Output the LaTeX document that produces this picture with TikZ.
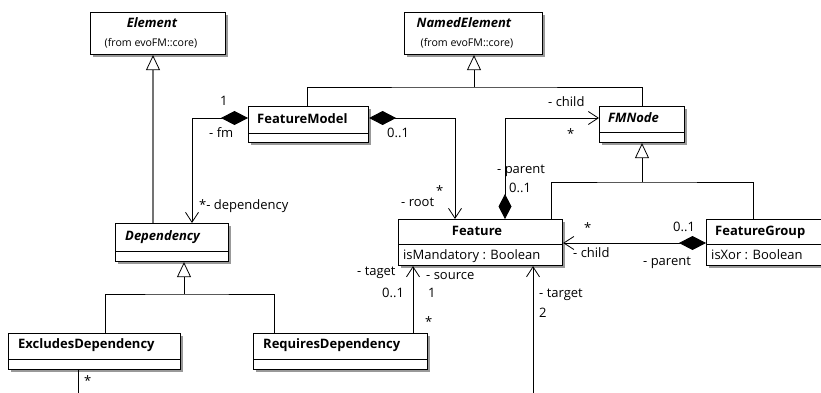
\documentclass[tikz,border=0pt]{standalone}
\usepackage{fontspec}
\setmainfont{Open Sans}
\usetikzlibrary{arrows.meta,shadows}

% class box: name, left, top, right, bottom
\newcommand\umlclass[5]{%
  \node[umlbox, minimum width={#4-#2}, minimum height={#5-#3}, anchor=north west] (#1) at (#2,#3) {};}
% compartment line inside a class box: name, y
\newcommand\umlsep[2]{\draw[sepline] (#1.west |- 0,#2) -- (#1.east |- 0,#2);}

\begin{document}
\begin{tikzpicture}[x=1pt,y=-1pt,
  umlbox/.style={draw=black, line width=1.1pt, fill=white, inner sep=0pt,
    general shadow={fill=black!40, shadow xshift=2.5pt, shadow yshift=-2.5pt}},
  sepline/.style={line width=0.9pt},
  conn/.style={line width=0.8pt},
  gen/.style={conn, -{Triangle[fill=white,length=15pt,width=14pt]}},
  nav/.style={conn, -{Straight Barb[length=10pt,width=13pt]}},
  comp/.style={conn, {Diamond[length=27pt,width=14pt]}-{Straight Barb[length=10pt,width=13pt]}},
  txt/.style={font=\fontsize{13}{15}\selectfont, inner sep=0pt, text height=9pt, text depth=0pt},
  subtxt/.style={txt, font=\fontsize{10.6}{12}\selectfont, text height=8pt},
  lbl/.style={txt, anchor=west},
  ttl/.style={txt, font=\fontsize{13}{15}\selectfont\bfseries},
  attl/.style={txt, font=\fontsize{13}{15}\selectfont\bfseries\itshape},
]
\useasboundingbox (0,0) rectangle (821,393);
\clip (0,0) rectangle (821,393);

% ---- classes ----
\umlclass{element}{90}{12}{225}{54}
\node[attl] (elementT) at (152,23) {Element};
\node[subtxt] (elementS) at (151,43) {(from evoFM::core)};

\umlclass{named}{404}{12}{542}{54}
\node[attl] (namedT) at (464,23) {NamedElement};
\node[subtxt] (namedS) at (467,43) {(from evoFM::core)};

\umlclass{fmodel}{248}{106}{368}{142}
\umlsep{fmodel}{133}
\node[ttl, anchor=west] (fmodelT) at (257,119) {FeatureModel};

\umlclass{fmnode}{599}{106}{684}{142}
\umlsep{fmnode}{132}
\node[attl, anchor=west] (fmnodeT) at (608,118) {FMNode};

\umlclass{feature}{398}{219}{562}{265}
\umlsep{feature}{244}
\node[ttl] (featureT) at (477,231) {Feature};
\node[lbl] (featureA) at (403,255) {isMandatory : Boolean};

\umlclass{fgroup}{706}{219}{832}{265}
\umlsep{fgroup}{244}
\node[ttl, anchor=west] (fgroupT) at (715,231) {FeatureGroup};
\node[lbl] (fgroupA) at (711,255) {isXor : Boolean};

\umlclass{dep}{115}{223}{228}{261}
\umlsep{dep}{251}
\node[attl, anchor=west] (depT) at (125,236) {Dependency};

\umlclass{excl}{8}{333}{180}{369}
\umlsep{excl}{359}
\node[ttl, anchor=west] (exclT) at (18,344) {ExcludesDependency};

\umlclass{req}{253}{333}{427}{369}
\umlsep{req}{359}
\node[ttl, anchor=west] (reqT) at (263,344) {RequiresDependency};

% ---- generalizations ----
\draw[draw=black!55, line width=1.5pt,
  -{Triangle[fill=white,color=black,line width=0.8pt,length=15pt,width=14pt]}]
  (dep.north -| 153,0) -- (element.south -| 153,0);

\coordinate (namedJ) at (474,87);
\draw[gen] (namedJ) -- (named.south -| namedJ);
\draw[conn] (fmodel.north -| 307,0) |- (namedJ) -| (fmnode.north -| 642,0);

\coordinate (fmnodeJ) at (642,182);
\draw[gen] (fmnodeJ) -- (fmnode.south -| fmnodeJ);
\draw[conn] (feature.north -| 551,0) |- (fmnodeJ) -| (fgroup.north -| 753,0);

\coordinate (depJ) at (184,294);
\draw[gen] (depJ) -- (dep.south -| depJ);
\draw[conn] (excl.north -| 105,0) |- (depJ) -| (req.north -| 274,0);

% ---- associations ----
\draw[comp] (fmodel.west |- 0,118) -| (dep.north -| 192,0);
\draw[comp] (fmodel.east |- 0,118) -| (feature.north -| 455,0);
\draw[conn, {Diamond[length=25pt,width=13pt]}-{Straight Barb[length=10pt,width=13pt]}]
  (feature.north -| 505,0) |- (fmnode.west |- 0,118);
\draw[comp] (fgroup.west |- 0,243) -- (feature.east |- 0,243);
\draw[nav] (req.north -| 413,0) -- (feature.south -| 413,0);
\coordinate (tgtEnd) at (533,400);
\draw[nav] (tgtEnd) -- (feature.south -| tgtEnd);
\coordinate (exclEnd) at (78,400);
\draw[conn] (excl.south -| exclEnd) -- (exclEnd);

% ---- association end labels ----
\node[lbl] (l1) at (220,101) {1};
\node[lbl] (l2) at (209,133) {- fm};
\node[lbl] (l3) at (387,133) {0..1};
\node[lbl] (l4) at (436,190.5) {*};
\node[lbl] (l5) at (401,202) {- root};
\node[lbl] (l6) at (548,102) {- child};
\node[lbl] (l7) at (567,134.5) {*};
\node[lbl] (l8) at (497,169) {- parent};
\node[lbl] (l9) at (509,188) {0..1};
\node[lbl] (l10) at (584,227.5) {*};
\node[lbl] (l11) at (673,227) {0..1};
\node[lbl] (l12) at (573,253) {- child};
\node[lbl] (l13) at (643,261) {- parent};
\node[lbl] (l14) at (199,205) {*- dependency};
\node[lbl] (l15) at (357,271) {- taget};
\node[lbl] (l16) at (382,293) {0..1};
\node[lbl] (l17) at (426,275) {- source};
\node[lbl] (l18) at (428,293) {1};
\node[lbl] (l19) at (425,321.5) {*};
\node[lbl] (l20) at (539,293) {- target};
\node[lbl] (l21) at (539,313) {2};
\node[lbl] (l22) at (84,380.5) {*};
\end{tikzpicture}
\end{document}
